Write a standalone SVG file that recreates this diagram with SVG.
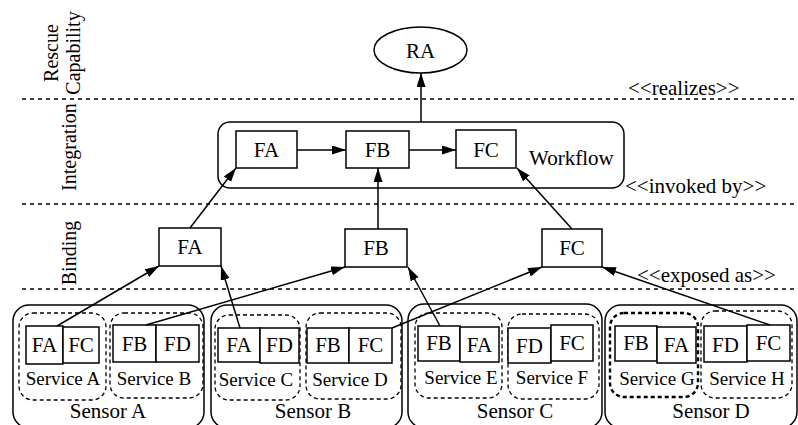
<svg xmlns="http://www.w3.org/2000/svg" width="798" height="425" viewBox="0 0 798 425">
<defs>
<style>
text{font-family:"Liberation Serif","Times New Roman",serif;fill:#000}
.lbl{font-size:21px;text-anchor:middle}
.svc{font-size:19px;text-anchor:middle}
.st{font-size:21px}
.vl{font-size:20px;text-anchor:middle}
.box{fill:#fff;stroke:#000;stroke-width:1.5}
.sensor{fill:none;stroke:#000;stroke-width:1.5}
.service{fill:none;stroke:#000;stroke-width:1.3;stroke-dasharray:4 3}
.sep{stroke:#000;stroke-width:1.3;stroke-dasharray:4 4}
.conn{stroke:#000;stroke-width:1.5;fill:none;marker-end:url(#arr)}
</style>
<marker id="arr" markerUnits="userSpaceOnUse" markerWidth="15" markerHeight="10" refX="14" refY="4.5" orient="auto">
<path d="M0,0 L14,4.5 L0,9 z" fill="#000"/>
</marker>
</defs>
<rect width="798" height="425" fill="#fff"/>
<g id="separators">
<line class="sep" x1="22" y1="99" x2="798" y2="99"/>
<line class="sep" x1="22" y1="204" x2="798" y2="204"/>
<line class="sep" x1="22" y1="289" x2="798" y2="289"/>
</g>
<g id="layer-labels">
<text class="vl" transform="translate(58,53) rotate(-90)">Rescue</text>
<text class="vl" transform="translate(80,53) rotate(-90)">Capability</text>
<text class="vl" transform="translate(76,147) rotate(-90)">Integration</text>
<text class="vl" transform="translate(76,253) rotate(-90)">Binding</text>
</g>
<g id="stereotypes">
<text class="st" x="628" y="95">&lt;&lt;realizes&gt;&gt;</text>
<text class="st" x="625" y="193">&lt;&lt;invoked by&gt;&gt;</text>
<text class="st" x="637" y="282">&lt;&lt;exposed as&gt;&gt;</text>
</g>
<g id="RA">
<ellipse cx="420.5" cy="50" rx="46.5" ry="23" class="box"/>
<text class="lbl" x="420.5" y="58">RA</text>
</g>
<g id="workflow">
<rect x="218" y="122" width="406" height="66" rx="12" class="sensor"/>
<text class="st" x="529" y="165">Workflow</text>
</g>
<g id="wf-FA"><rect x="236" y="131" width="61" height="37" class="box"/><text class="lbl" x="266.5" y="157">FA</text></g>
<g id="wf-FB"><rect x="346" y="131" width="63" height="37" class="box"/><text class="lbl" x="377.5" y="157">FB</text></g>
<g id="wf-FC"><rect x="456" y="130" width="60" height="38" class="box"/><text class="lbl" x="486" y="157">FC</text></g>
<g id="bind-FA"><rect x="159" y="228" width="62" height="38" class="box"/><text class="lbl" x="190" y="254">FA</text></g>
<g id="bind-FB"><rect x="345" y="229" width="62" height="38" class="box"/><text class="lbl" x="376" y="255">FB</text></g>
<g id="bind-FC"><rect x="542" y="229" width="60" height="38" class="box"/><text class="lbl" x="572" y="255">FC</text></g>
<g id="sensor-A">
<rect x="13" y="305" width="191" height="123" rx="16" class="sensor"/>
<text class="lbl" x="108" y="418">Sensor A</text>
</g>
<g id="sensor-B">
<rect x="211" y="305" width="191" height="123" rx="16" class="sensor"/>
<text class="lbl" x="313" y="418">Sensor B</text>
</g>
<g id="sensor-C">
<rect x="408" y="304" width="194" height="124" rx="16" class="sensor"/>
<text class="lbl" x="515" y="418">Sensor C</text>
</g>
<g id="sensor-D">
<rect x="605" y="305" width="192" height="123" rx="16" class="sensor"/>
<text class="lbl" x="711" y="418">Sensor D</text>
</g>
<g id="service-A">
<rect x="19" y="313" width="87" height="87" rx="14" class="service"/>
<rect x="26" y="326" width="37" height="38" class="box"/><text class="lbl" x="44.5" y="352">FA</text>
<rect x="63" y="327" width="36" height="36" class="box"/><text class="lbl" x="81" y="352">FC</text>
<text class="svc" x="63" y="385">Service A</text>
</g>
<g id="service-B">
<rect x="110" y="313" width="93" height="85" rx="14" class="service"/>
<rect x="113" y="325" width="43" height="37" class="box"/><text class="lbl" x="134.5" y="351">FB</text>
<rect x="156" y="325" width="43" height="37" class="box"/><text class="lbl" x="177.5" y="351">FD</text>
<text class="svc" x="154" y="385">Service B</text>
</g>
<g id="service-C">
<rect x="215" y="315" width="85" height="85" rx="14" class="service"/>
<rect x="218" y="328" width="42" height="34" class="box"/><text class="lbl" x="239" y="352">FA</text>
<rect x="260" y="328" width="39" height="35" class="box"/><text class="lbl" x="279.5" y="352">FD</text>
<text class="svc" x="256" y="386">Service C</text>
</g>
<g id="service-D">
<rect x="306" y="313" width="95" height="86" rx="14" class="service"/>
<rect x="307" y="328" width="42" height="35" class="box"/><text class="lbl" x="328" y="352">FB</text>
<rect x="349" y="328" width="43" height="35" class="box"/><text class="lbl" x="370.5" y="352">FC</text>
<text class="svc" x="350" y="386">Service D</text>
</g>
<g id="service-E">
<rect x="415" y="313" width="87" height="85" rx="14" class="service"/>
<rect x="418" y="326" width="42" height="35" class="box"/><text class="lbl" x="439" y="350">FB</text>
<rect x="460" y="327" width="39" height="35" class="box"/><text class="lbl" x="479.5" y="352">FA</text>
<text class="svc" x="461" y="384">Service E</text>
</g>
<g id="service-F">
<rect x="508" y="314" width="91" height="85" rx="14" class="service"/>
<rect x="508" y="328" width="43" height="35" class="box"/><text class="lbl" x="529.5" y="353">FD</text>
<rect x="551" y="325" width="42" height="36" class="box"/><text class="lbl" x="572" y="350">FC</text>
<text class="svc" x="552" y="384">Service F</text>
</g>
<g id="service-G">
<rect x="610" y="313" width="88" height="84" rx="14" class="service" style="stroke-width:2.4"/>
<rect x="615" y="326" width="42" height="35" class="box"/><text class="lbl" x="636" y="350">FB</text>
<rect x="657" y="327" width="39" height="36" class="box"/><text class="lbl" x="676.5" y="352">FA</text>
<text class="svc" x="657" y="385">Service G</text>
</g>
<g id="service-H">
<rect x="701" y="311" width="91" height="87" rx="14" class="service"/>
<rect x="704" y="326" width="43" height="36" class="box"/><text class="lbl" x="725.5" y="352">FD</text>
<rect x="747" y="325" width="43" height="36" class="box"/><text class="lbl" x="768.5" y="350">FC</text>
<text class="svc" x="747" y="385">Service H</text>
</g>
<g id="connectors">
<line class="conn" x1="421" y1="122" x2="421" y2="73"/>
<line class="conn" x1="297" y1="150" x2="346" y2="150"/>
<line class="conn" x1="409" y1="150" x2="456" y2="150"/>
<line class="conn" x1="190" y1="228" x2="236" y2="168"/>
<line class="conn" x1="378" y1="229" x2="378" y2="168"/>
<line class="conn" x1="572" y1="229" x2="517" y2="168"/>
<line class="conn" x1="57" y1="326" x2="159" y2="266"/>
<line class="conn" x1="146" y1="325" x2="345" y2="267"/>
<line class="conn" x1="240" y1="328" x2="221" y2="266"/>
<line class="conn" x1="392" y1="328" x2="542" y2="267"/>
<line class="conn" x1="440" y1="326" x2="408" y2="267"/>
<line class="conn" x1="770" y1="325" x2="602" y2="267"/>
</g>
</svg>
